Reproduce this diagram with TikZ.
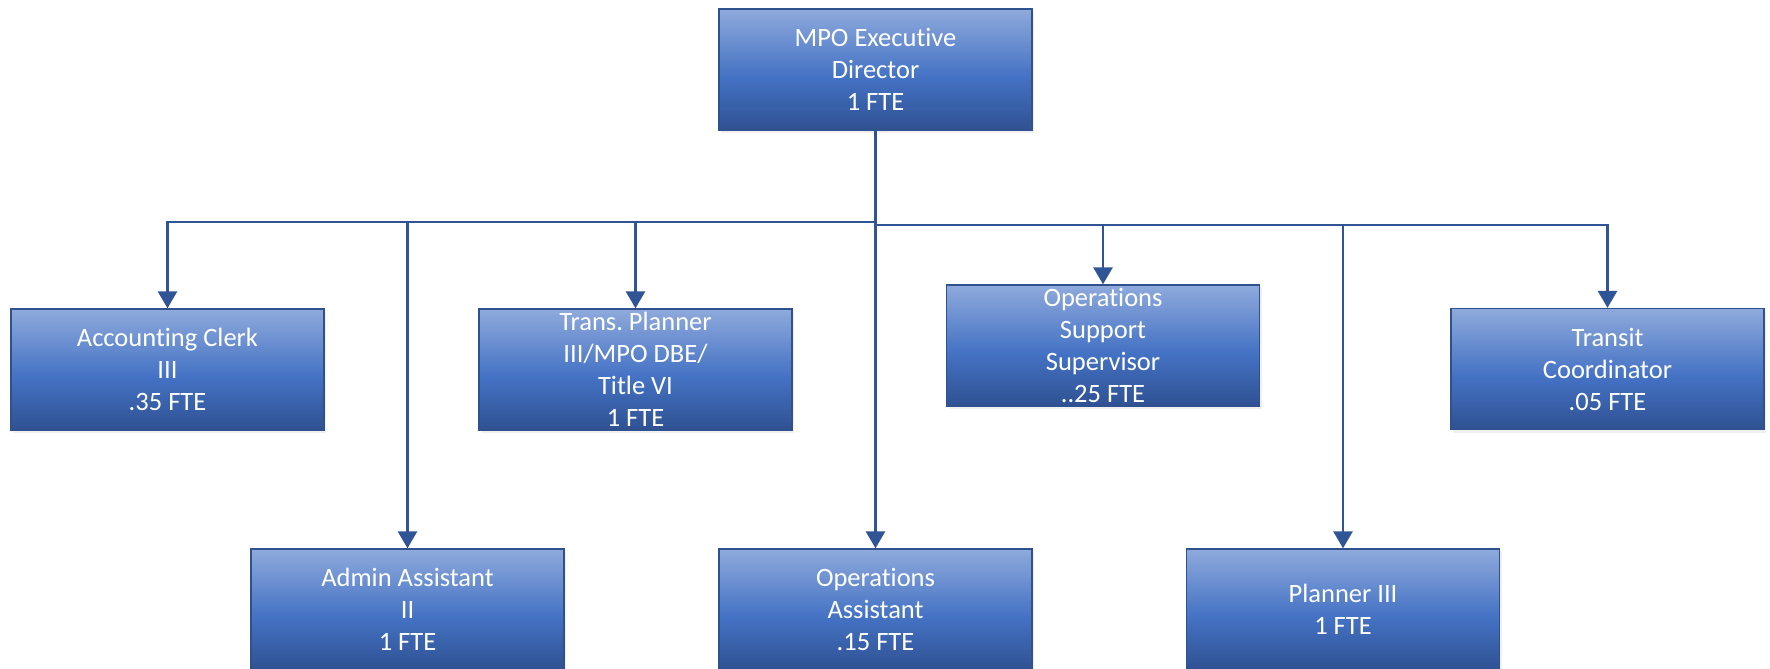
\documentclass[tikz,border=0pt]{standalone}
\usepackage{fontspec}
\setmainfont{Carlito}[Ligatures={NoCommon}]
\usetikzlibrary{arrows.meta,shadows}
\frenchspacing

\definecolor{shtop}{HTML}{8FAADC}
\definecolor{shmid}{HTML}{4472C4}
\definecolor{shbot}{HTML}{2F5192}
\definecolor{boxedge}{HTML}{2F528F}
\definecolor{linkblue}{HTML}{2F5597}

% vertical fill of the position boxes: light on top, deep blue at the base
\pgfdeclareverticalshading{boxshade}{100bp}{%
  color(0bp)=(shbot); color(25bp)=(shbot); color(47bp)=(shmid);
  color(75bp)=(shtop); color(100bp)=(shtop)}

\tikzset{
  orgbox/.style={rectangle, minimum width=313pt, minimum height=121pt,
    inner sep=0pt, draw=boxedge, line width=1.3pt, shading=boxshade,
    text=white, align=center, font=\fontsize{26.5}{32}\selectfont,
    drop shadow={opacity=0.12, shadow xshift=2pt, shadow yshift=-3pt}},
  link/.style={draw=linkblue, line width=2.8pt},
  tolink/.style={link, -{Triangle[width=19pt,length=17pt]}}
}

\begin{document}
\begin{tikzpicture}[x=1pt,y=-1pt]
\useasboundingbox (0,0) rectangle (1770,669);

% positions
\node[orgbox] (exec)    at (875.5, 69.5)  {MPO Executive\\Director\\1 FTE};
\node[orgbox] (acc)     at (167.5, 369.5) {Accounting Clerk\\III\\.35 FTE};
\node[orgbox] (trans)   at (635.5, 369.5) {Trans. Planner\\III/MPO DBE/\\Title VI\\1 FTE};
\node[orgbox] (opss)    at (1103, 345.5)  {Operations\\Support\\Supervisor\\..25 FTE};
\node[orgbox] (transit) at (1607.5, 369)  {Transit\\Coordinator\\.05 FTE};
\node[orgbox] (admin)   at (407.5, 609.5) {Admin Assistant\\II\\1 FTE};
\node[orgbox] (opsa)    at (875.5, 609.5) {Operations\\Assistant\\.15 FTE};
\node[orgbox] (plan)    at (1343, 609.5)  {Planner III\\1 FTE};

% reporting bus below the director
\coordinate (busL) at (875.5, 222);
\coordinate (busR) at (875.5, 225);

\draw[tolink] (exec.south) -- (opsa.north);

\draw[tolink] (exec.south) -- (busL) -| (acc.north);
\draw[tolink] (busL) -| (admin.north);
\draw[tolink] (busL) -| (trans.north);

\draw[tolink] (busR) -| (opss.north);
\draw[tolink] (busR) -| (plan.north);
\draw[tolink] (busR) -| (transit.north);
\end{tikzpicture}
\end{document}
